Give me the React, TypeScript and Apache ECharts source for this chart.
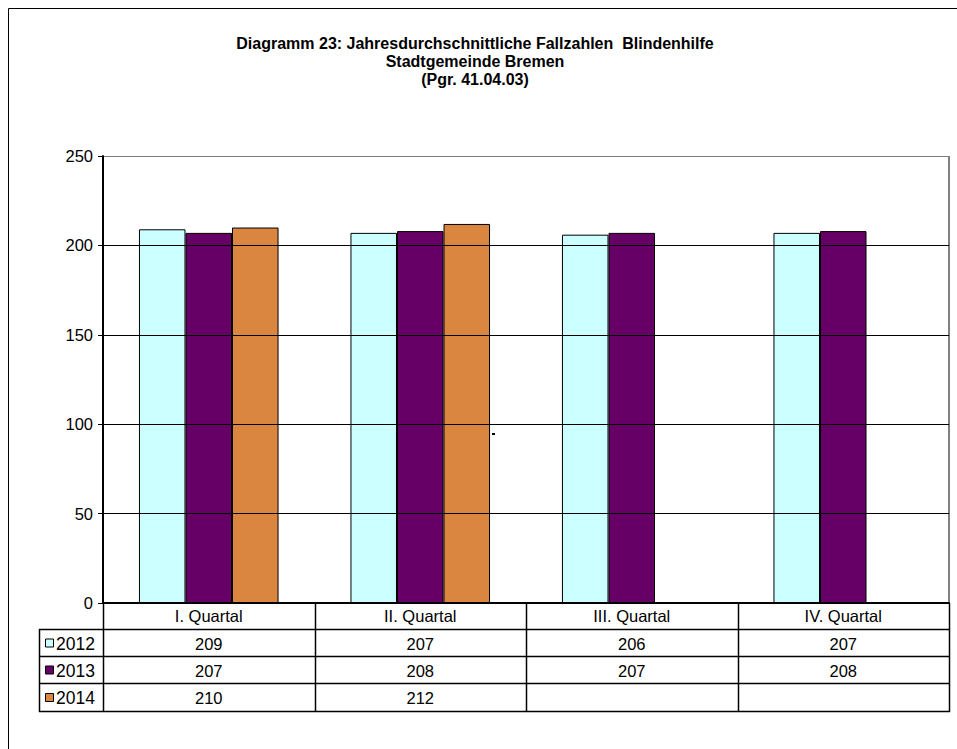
import React, { useEffect, useRef } from "react";
import * as echarts from "echarts";

const categories = ["I. Quartal", "II. Quartal", "III. Quartal", "IV. Quartal"];
const seriesNames = ["2012", "2013", "2014"];
const values2012 = [209, 207, 206, 207];
const values2013 = [207, 208, 207, 208];
const values2014: (number | null)[] = [210, 212, null, null];
const seriesColors = ["#CCFFFF", "#660066", "#DA8641"];
const titleLines = [
  "Diagramm 23: Jahresdurchschnittliche Fallzahlen  Blindenhilfe",
  "Stadtgemeinde Bremen",
  "(Pgr. 41.04.03)",
];
const yMin = 0;
const yMax = 250;
const yInterval = 50;

const FONT = "Liberation Sans, Arial, sans-serif";
const FS = 16.5;

export default function App() {
  const ref = useRef<HTMLDivElement>(null);
  useEffect(() => {
    if (!ref.current) return;
    const chart = echarts.init(ref.current, null, { renderer: "svg" });
    const W = 957;
    const H = 749;
    const gLeft = 103;
    const gRight = 949;
    const gTop = 156;
    const gBottom = 603;
    const rowH = [26, 27, 27, 28];
    const rowsY: number[] = [gBottom];
    rowH.forEach((h, i) => rowsY.push(rowsY[i] + h));
    const tableBottom = rowsY[rowsY.length - 1];
    const legendLeft = 39;
    const colW = (gRight - gLeft) / categories.length;
    const allValues = [values2012, values2013, values2014];

    const graphics: any[] = [];
    graphics.push({
      type: "rect",
      shape: { x: 8.5, y: 8.5, width: 1000, height: 1000 },
      style: { fill: "none", stroke: "#000", lineWidth: 1 },
      silent: true,
    });
    graphics.push({
      type: "text",
      x: 475,
      y: 34,
      style: {
        text: titleLines.join("\n"),
        align: "center",
        verticalAlign: "top",
        lineHeight: 18,
        font: `bold 16px ${FONT}`,
        fill: "#000",
      },
    });
    graphics.push({
      type: "line",
      shape: { x1: gRight, y1: gTop, x2: gRight, y2: gBottom },
      style: { stroke: "#808080", lineWidth: 2 },
    });
    graphics.push({
      type: "rect",
      shape: { x: 492, y: 433, width: 3, height: 2 },
      style: { fill: "#000" },
    });
    for (let r = 1; r < rowsY.length; r++) {
      graphics.push({
        type: "line",
        shape: { x1: legendLeft, y1: rowsY[r] + 0.5, x2: gRight + 1, y2: rowsY[r] + 0.5 },
        style: { stroke: "#000", lineWidth: 1.5 },
      });
    }
    graphics.push({
      type: "line",
      shape: { x1: legendLeft + 0.5, y1: rowsY[1], x2: legendLeft + 0.5, y2: tableBottom + 1 },
      style: { stroke: "#000", lineWidth: 1.5 },
    });
    for (let c = 0; c <= categories.length; c++) {
      const x = Math.round(gLeft + c * colW) + 0.5;
      graphics.push({
        type: "line",
        shape: { x1: x, y1: gBottom, x2: x, y2: tableBottom + 1 },
        style: { stroke: "#000", lineWidth: 1.5 },
      });
    }
    seriesNames.forEach((name, s) => {
      const yc = (rowsY[s + 1] + rowsY[s + 2]) / 2 + 1;
      graphics.push({
        type: "rect",
        shape: { x: 45.5, y: yc - 4.5, width: 8, height: 8 },
        style: { fill: seriesColors[s], stroke: "#000", lineWidth: 1 },
      });
      graphics.push({
        type: "text",
        x: 56,
        y: yc,
        style: { text: name, align: "left", verticalAlign: "middle", font: `17.5px ${FONT}`, fill: "#000" },
      });
      allValues[s].forEach((v, c) => {
        if (v == null) return;
        graphics.push({
          type: "text",
          x: gLeft + (c + 0.5) * colW,
          y: yc,
          style: { text: String(v), align: "center", verticalAlign: "middle", font: `${FS}px ${FONT}`, fill: "#000" },
        });
      });
    });

    chart.setOption({
      animation: false,
      backgroundColor: "#fff",
      grid: { left: gLeft, right: W - gRight, top: gTop, bottom: H - gBottom, containLabel: false },
      xAxis: {
        type: "category",
        data: categories,
        axisLine: { show: true, lineStyle: { color: "#000", width: 2 } },
        axisTick: { show: false },
        axisLabel: { color: "#000", fontSize: FS, fontFamily: FONT, margin: 4 },
        z: 5,
      },
      yAxis: {
        type: "value",
        min: yMin,
        max: yMax,
        interval: yInterval,
        axisLine: { show: true, lineStyle: { color: "#000", width: 2 } },
        axisTick: { show: true, length: 5, lineStyle: { color: "#000", width: 1 } },
        axisLabel: { color: "#000", fontSize: FS, fontFamily: FONT, margin: 10 },
        splitLine: {
          show: true,
          lineStyle: { color: ["#000", "#000", "#000", "#000", "#000", "#808080"], width: 1 },
        },
        z: 5,
      },
      series: seriesNames.map((name, s) => ({
        name,
        type: "bar",
        data: allValues[s],
        barGap: "0%",
        barCategoryGap: "34%",
        itemStyle: { color: seriesColors[s], borderColor: "#000", borderWidth: 1 },
      })),
      graphic: graphics,
    });
    return () => chart.dispose();
  }, []);
  return (
    <div
      ref={ref}
      style={{ position: "fixed", left: 0, top: 0, width: 957, height: 749, background: "#fff" }}
    />
  );
}
